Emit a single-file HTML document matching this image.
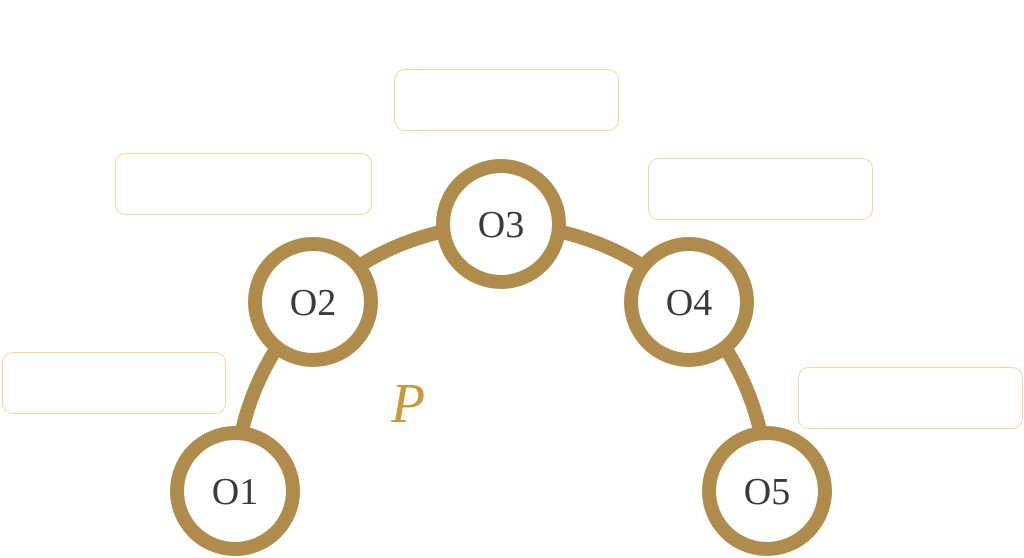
<!DOCTYPE html>
<html><head><style>
body{margin:0;width:1024px;height:558px;background:#fff;overflow:hidden;position:relative}
.b{position:absolute;border:1.5px solid #efd899;border-radius:11px;box-sizing:border-box}
</style></head><body>
<div class="b" style="left:2px;top:352px;width:224px;height:62px"></div>
<div class="b" style="left:115px;top:153px;width:257px;height:62px"></div>
<div class="b" style="left:394px;top:69px;width:225px;height:62px"></div>
<div class="b" style="left:648px;top:158px;width:225px;height:62px"></div>
<div class="b" style="left:798px;top:367px;width:225px;height:62px"></div>
<svg width="1024" height="558" style="position:absolute;left:0;top:0">
<path d="M235 491 A266 266 0 0 1 767 491" fill="none" stroke="#b08c4c" stroke-width="14"/>
<g fill="#fff" stroke="#b08c4c" stroke-width="14">
<circle cx="235" cy="491" r="58"/>
<circle cx="313" cy="302" r="58"/>
<circle cx="501" cy="224" r="58"/>
<circle cx="689" cy="302" r="58"/>
<circle cx="767" cy="491" r="58"/>
</g>
<g font-family="Liberation Serif, serif" font-size="38" fill="#3a3a3a" text-anchor="middle">
<text x="235" y="504">O1</text>
<text x="313" y="315">O2</text>
<text x="501" y="237">O3</text>
<text x="689" y="315">O4</text>
<text x="767" y="504">O5</text>
</g>
<text x="408" y="422" font-family="Liberation Serif, serif" font-style="italic" font-size="56" fill="#c89a3c" text-anchor="middle">P</text>
</svg>
</body></html>
